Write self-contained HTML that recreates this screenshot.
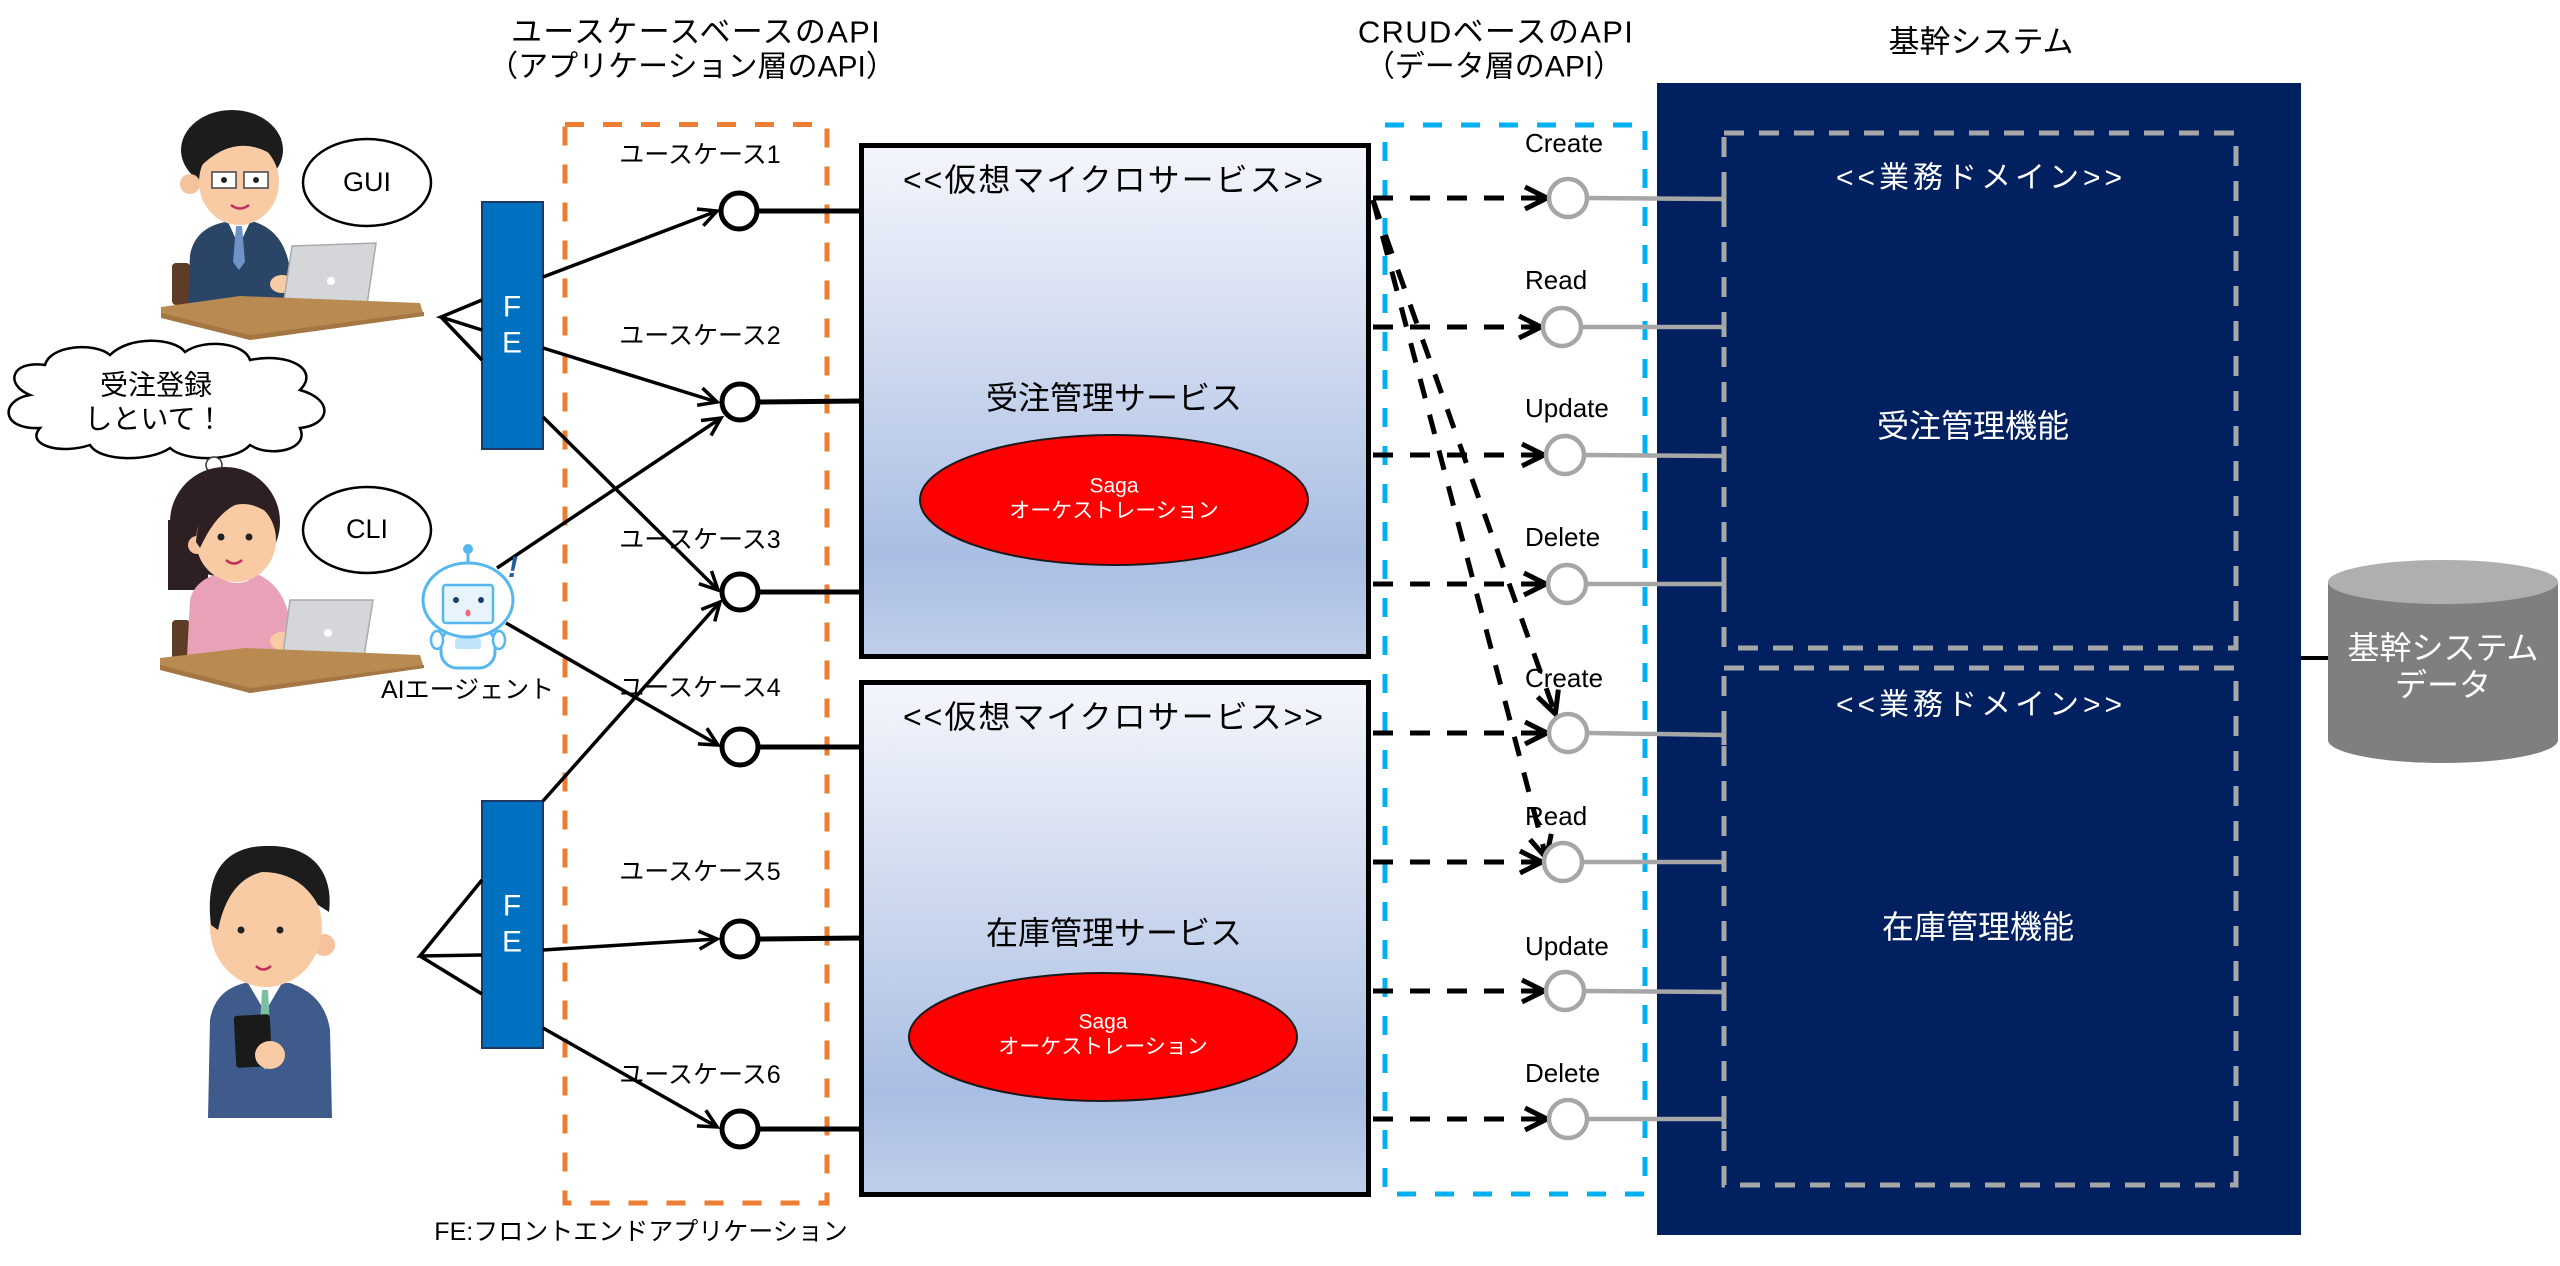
<!DOCTYPE html>
<html><head><meta charset="utf-8"><style>
html,body{margin:0;padding:0;background:#fff;}
svg{display:block;}
.t{font-family:"Liberation Sans","Noto Sans CJK JP",sans-serif;}
</style></head><body>
<svg width="2560" height="1266" viewBox="0 0 2560 1266" xmlns="http://www.w3.org/2000/svg">
<defs>
<linearGradient id="g" x1="0" y1="0" x2="0" y2="1">
<stop offset="0" stop-color="#F4F6FC"/><stop offset="0.5" stop-color="#C6D3EC"/><stop offset="0.8" stop-color="#A9BEE4"/><stop offset="1" stop-color="#BFCEEA"/>
</linearGradient>
<marker id="a" markerUnits="userSpaceOnUse" markerWidth="26" markerHeight="26" viewBox="0 0 26 26" refX="21" refY="13" orient="auto"><path d="M3,4 L21,13 L3,22" fill="none" stroke="#000" stroke-width="3.5"/></marker>
<marker id="b" markerUnits="userSpaceOnUse" markerWidth="32" markerHeight="30" viewBox="0 0 32 30" refX="24" refY="15" orient="auto"><path d="M3,4 L25,15 L3,26" fill="none" stroke="#000" stroke-width="5"/></marker>
</defs>

<!-- titles -->
<g class="t" fill="#000" text-anchor="middle" dominant-baseline="central">
<text x="696" y="32" font-size="31" letter-spacing="1.3">ユースケースベースのAPI</text>
<text x="692" y="67" font-size="30">（アプリケーション層のAPI）</text>
<text x="1496" y="32" font-size="31" letter-spacing="1.3">CRUDベースのAPI</text>
<text x="1494" y="67" font-size="30">（データ層のAPI）</text>
<text x="1981" y="42" font-size="31">基幹システム</text>
</g>

<!-- navy core system -->
<rect x="1657" y="83" width="644" height="1152" fill="#002060"/>
<rect x="1724" y="133" width="512" height="515" fill="none" stroke="#A6A6A6" stroke-width="5" stroke-dasharray="20 15"/>
<rect x="1724" y="668" width="512" height="517" fill="none" stroke="#A6A6A6" stroke-width="5" stroke-dasharray="20 15"/>
<g class="t" fill="#fff" text-anchor="middle" dominant-baseline="central">
<text x="1981" y="178" font-size="30" letter-spacing="4">&lt;&lt;業務ドメイン&gt;&gt;</text>
<text x="1981" y="705" font-size="30" letter-spacing="4">&lt;&lt;業務ドメイン&gt;&gt;</text>
<text x="1973" y="426" font-size="32">受注管理機能</text>
<text x="1978" y="927" font-size="32">在庫管理機能</text>
</g>

<!-- cylinder -->
<line x1="2301" y1="658" x2="2330" y2="658" stroke="#000" stroke-width="4"/>
<path d="M2328,582 L2328,740 A115,23 0 0 0 2558,740 L2558,582 Z" fill="#7F7F7F"/>
<ellipse cx="2443" cy="582" rx="115" ry="22" fill="#AFAFAF"/>
<g class="t" fill="#fff" text-anchor="middle" dominant-baseline="central" font-size="32">
<text x="2443" y="648">基幹システム</text>
<text x="2443" y="685">データ</text>
</g>

<!-- orange and blue dashed boxes -->
<rect x="565" y="124.5" width="262" height="1078.5" fill="none" stroke="#ED7D31" stroke-width="5" stroke-dasharray="19 19"/>
<rect x="1385" y="125" width="260" height="1069" fill="none" stroke="#00B0F0" stroke-width="5" stroke-dasharray="19 19"/>

<!-- microservice boxes -->
<rect x="861.5" y="145.5" width="507" height="511" fill="url(#g)" stroke="#000" stroke-width="5"/>
<rect x="861.5" y="682.5" width="507" height="512" fill="url(#g)" stroke="#000" stroke-width="5"/>
<g class="t" fill="#000" text-anchor="middle" dominant-baseline="central">
<text x="1114" y="180" font-size="32" letter-spacing="2">&lt;&lt;仮想マイクロサービス&gt;&gt;</text>
<text x="1114" y="717" font-size="32" letter-spacing="2">&lt;&lt;仮想マイクロサービス&gt;&gt;</text>
<text x="1114" y="398" font-size="32">受注管理サービス</text>
<text x="1114" y="933" font-size="32">在庫管理サービス</text>
</g>
<ellipse cx="1114" cy="500" rx="194" ry="65" fill="#FF0000" stroke="#1a1a1a" stroke-width="2"/>
<ellipse cx="1103" cy="1037" rx="194" ry="64" fill="#FF0000" stroke="#1a1a1a" stroke-width="2"/>
<g class="t" fill="#fff" text-anchor="middle" dominant-baseline="central" font-size="21">
<text x="1114" y="486">Saga</text>
<text x="1114" y="511">オーケストレーション</text>
<text x="1103" y="1022">Saga</text>
<text x="1103" y="1047">オーケストレーション</text>
</g>

<!-- CRUD dashed arrows -->
<g stroke="#000" stroke-width="5" stroke-dasharray="20 17" fill="none">
<line x1="1373" y1="198" x2="1546" y2="198" marker-end="url(#b)"/>
<line x1="1373" y1="327" x2="1540" y2="327" marker-end="url(#b)"/>
<line x1="1373" y1="455" x2="1543" y2="455" marker-end="url(#b)"/>
<line x1="1373" y1="584" x2="1545" y2="584" marker-end="url(#b)"/>
<line x1="1373" y1="733" x2="1546" y2="733" marker-end="url(#b)"/>
<line x1="1373" y1="862" x2="1541" y2="862" marker-end="url(#b)"/>
<line x1="1373" y1="991" x2="1543" y2="991" marker-end="url(#b)"/>
<line x1="1373" y1="1119" x2="1546" y2="1119" marker-end="url(#b)"/>
<line x1="1373" y1="200" x2="1555" y2="713" marker-end="url(#b)"/>
<line x1="1373" y1="200" x2="1546" y2="857" marker-end="url(#b)"/>
</g>

<!-- gray connectors -->
<g stroke="#A6A6A6" stroke-width="4.5" fill="none">
<line x1="1588" y1="198" x2="1724" y2="199"/>
<line x1="1582" y1="327" x2="1724" y2="327"/>
<line x1="1585" y1="455" x2="1724" y2="456"/>
<line x1="1587" y1="584" x2="1724" y2="584"/>
<line x1="1588" y1="733" x2="1724" y2="735"/>
<line x1="1583" y1="862" x2="1724" y2="862"/>
<line x1="1585" y1="991" x2="1724" y2="992"/>
<line x1="1588" y1="1119" x2="1724" y2="1119"/>
<g stroke-width="5">
<line x1="1724" y1="189" x2="1724" y2="209"/><line x1="1724" y1="317" x2="1724" y2="337"/>
<line x1="1724" y1="446" x2="1724" y2="466"/><line x1="1724" y1="574" x2="1724" y2="594"/>
<line x1="1724" y1="725" x2="1724" y2="745"/><line x1="1724" y1="852" x2="1724" y2="872"/>
<line x1="1724" y1="982" x2="1724" y2="1002"/><line x1="1724" y1="1109" x2="1724" y2="1129"/>
</g>
</g>
<g fill="#fff" stroke="#A6A6A6" stroke-width="4.5">
<circle cx="1568" cy="198" r="19"/><circle cx="1562" cy="327" r="19"/>
<circle cx="1565" cy="455" r="19"/><circle cx="1567" cy="584" r="19"/>
<circle cx="1568" cy="733" r="19"/><circle cx="1563" cy="862" r="19"/>
<circle cx="1565" cy="991" r="19"/><circle cx="1568" cy="1119" r="19"/>
</g>
<g class="t" fill="#000" font-size="26" dominant-baseline="central">
<text x="1525" y="143">Create</text><text x="1525" y="280">Read</text>
<text x="1525" y="408">Update</text><text x="1525" y="537">Delete</text>
<text x="1525" y="678">Create</text><text x="1525" y="816">Read</text>
<text x="1525" y="946">Update</text><text x="1525" y="1073">Delete</text>
</g>

<!-- use case circles and connectors -->
<g stroke="#000" stroke-width="5">
<line x1="758" y1="211" x2="861" y2="211"/><line x1="758" y1="402" x2="861" y2="401"/>
<line x1="758" y1="592" x2="861" y2="592"/><line x1="758" y1="747" x2="861" y2="747"/>
<line x1="758" y1="939" x2="861" y2="938"/><line x1="758" y1="1129" x2="861" y2="1129"/>
</g>
<g fill="#fff" stroke="#000" stroke-width="5">
<circle cx="739" cy="211" r="18"/><circle cx="740" cy="402" r="18"/>
<circle cx="740" cy="592" r="18"/><circle cx="740" cy="747" r="18"/>
<circle cx="740" cy="939" r="18"/><circle cx="740" cy="1129" r="18"/>
</g>
<g class="t" fill="#000" font-size="25" text-anchor="middle" dominant-baseline="central">
<text x="700" y="155">ユースケース1</text><text x="700" y="336">ユースケース2</text>
<text x="700" y="540">ユースケース3</text><text x="700" y="688">ユースケース4</text>
<text x="700" y="872">ユースケース5</text><text x="700" y="1075">ユースケース6</text>
</g>

<!-- FE boxes -->
<rect x="482" y="202" width="61" height="247" fill="#0070C0" stroke="#1F3864" stroke-width="2"/>
<rect x="482" y="801" width="61" height="247" fill="#0070C0" stroke="#1F3864" stroke-width="2"/>
<g class="t" fill="#fff" font-size="30" text-anchor="middle" dominant-baseline="central">
<text x="512" y="307">F</text><text x="512" y="343">E</text>
<text x="512" y="906">F</text><text x="512" y="942">E</text>
</g>

<!-- arrows to use cases -->
<g stroke="#000" stroke-width="3.5" fill="none">
<line x1="543" y1="277" x2="717" y2="211" marker-end="url(#a)"/>
<line x1="543" y1="348" x2="717" y2="402" marker-end="url(#a)"/>
<line x1="543" y1="417" x2="718" y2="590" marker-end="url(#a)"/>
<line x1="497" y1="568" x2="721" y2="418" marker-end="url(#a)"/>
<line x1="506" y1="623" x2="718" y2="745" marker-end="url(#a)"/>
<line x1="543" y1="801" x2="720" y2="602" marker-end="url(#a)"/>
<line x1="543" y1="950" x2="717" y2="939" marker-end="url(#a)"/>
<line x1="543" y1="1028" x2="717" y2="1127" marker-end="url(#a)"/>
<!-- fans -->
<polyline points="482,300 441,317 482,330"/>
<line x1="441" y1="317" x2="482" y2="360"/>
<polyline points="482,880 420,956 482,955"/>
<line x1="420" y1="956" x2="482" y2="994"/>
</g>

<!-- speech ellipses -->
<ellipse cx="367" cy="182.5" rx="64" ry="43.5" fill="#fff" stroke="#000" stroke-width="2.5"/>
<ellipse cx="367" cy="530" rx="64" ry="43" fill="#fff" stroke="#000" stroke-width="2.5"/>
<g class="t" fill="#000" font-size="27" text-anchor="middle" dominant-baseline="central">
<text x="367" y="182">GUI</text><text x="367" y="529">CLI</text>
</g>

<!-- cloud -->
<path d="M30,395 C5,385 10,360 45,365 C50,345 95,342 110,355 C130,335 175,338 185,352 C205,338 245,343 250,360 C290,352 320,370 300,390 C335,400 330,425 300,428 C310,450 270,458 250,445 C235,462 185,462 170,448 C150,462 100,462 90,445 C60,455 25,445 40,428 C0,430 0,400 30,395 Z" fill="#fff" stroke="#000" stroke-width="2.5"/>
<g class="t" fill="#000" font-size="28" text-anchor="middle" dominant-baseline="central">
<text x="156" y="385">受注登録</text><text x="154" y="419">しといて！</text>
</g>

<!-- Person 1 -->
<g>
<rect x="172" y="263" width="18" height="42" rx="4" fill="#5E3C26"/>
<path d="M188,305 L190,255 Q195,228 225,222 L255,222 Q285,232 290,270 L292,305 Z" fill="#2A4566"/>
<polygon points="228,222 250,222 239,246" fill="#fff"/>
<polygon points="236,226 242,226 245,262 239,270 233,262" fill="#6E93C5"/>
<ellipse cx="232" cy="150" rx="51" ry="40" fill="#1c1c1c"/>
<circle cx="190" cy="184" r="10" fill="#F6C29C"/>
<ellipse cx="239" cy="182" rx="40" ry="43" fill="#F8CBA4"/>
<path d="M199,168 Q238,128 280,160 L281,138 Q240,108 198,140 Z" fill="#1c1c1c"/>
<rect x="212" y="172" width="24" height="16" fill="#fff" stroke="#444" stroke-width="1.5"/>
<rect x="244" y="172" width="24" height="16" fill="#fff" stroke="#444" stroke-width="1.5"/>
<circle cx="224" cy="180" r="3" fill="#222"/><circle cx="256" cy="180" r="3" fill="#222"/>
<path d="M231,205 Q240,212 249,205" stroke="#C0305A" stroke-width="2.5" fill="none"/>
<ellipse cx="282" cy="284" rx="12" ry="9" fill="#F8CBA4"/>
<polygon points="292,246 376,243 367,305 283,307" fill="#D5D6DA" stroke="#A9AAAE" stroke-width="1.5"/>
<circle cx="331" cy="281" r="4" fill="#fff"/>
<polygon points="245,306 370,303 362,312 250,316" fill="#C9CACE"/>
<polygon points="161,307 240,296 420,303 424,316 250,340 161,316" fill="#B98A51"/>
<polygon points="161,313 250,335 424,312 424,316 250,340 161,318" fill="#A37643"/>
</g>

<!-- Person 2 -->
<g>
<circle cx="214" cy="465" r="8" fill="#fff" stroke="#333" stroke-width="1.5"/>
<circle cx="224" cy="481" r="5" fill="#fff" stroke="#333" stroke-width="1.5"/>
<circle cx="232" cy="490" r="3" fill="#fff" stroke="#333" stroke-width="1.2"/>
<rect x="172" y="620" width="18" height="42" rx="4" fill="#5E3C26"/>
<ellipse cx="225" cy="522" rx="55" ry="55" fill="#2D1F22"/>
<rect x="168" y="520" width="40" height="70" fill="#2D1F22"/>
<path d="M187,657 L190,600 Q195,578 225,572 L250,572 Q282,580 290,620 L292,657 Z" fill="#E9A1B8"/>
<ellipse cx="237" cy="577" rx="14" ry="6" fill="#fff"/>
<circle cx="197" cy="545" r="9" fill="#F6C29C"/>
<ellipse cx="236" cy="540" rx="40" ry="42" fill="#F8CBA4"/>
<path d="M196,542 Q200,485 250,485 Q275,490 277,520 Q255,500 235,505 Q215,515 200,548 Z" fill="#2D1F22"/>
<circle cx="221" cy="537" r="3.5" fill="#222"/><circle cx="249" cy="537" r="3.5" fill="#222"/>
<path d="M226,560 Q234,567 242,560" stroke="#C0305A" stroke-width="2.5" fill="none"/>
<ellipse cx="282" cy="641" rx="12" ry="9" fill="#F8CBA4"/>
<polygon points="290,600 373,600 363,663 282,662" fill="#D5D6DA" stroke="#A9AAAE" stroke-width="1.5"/>
<circle cx="328" cy="633" r="4" fill="#fff"/>
<polygon points="243,662 370,660 362,668 250,672" fill="#C9CACE"/>
<polygon points="160,658 245,648 420,655 424,668 250,693 160,668" fill="#B98A51"/>
<polygon points="160,665 250,688 424,665 424,668 250,693 160,670" fill="#A37643"/>
</g>

<!-- Robot -->
<g>
<line x1="468" y1="553" x2="468" y2="564" stroke="#55B7EC" stroke-width="3"/>
<circle cx="468" cy="549" r="5" fill="#55B7EC"/>
<rect x="441" y="628" width="54" height="40" rx="16" fill="#fff" stroke="#55B7EC" stroke-width="3"/>
<ellipse cx="437" cy="640" rx="6" ry="9" fill="#fff" stroke="#55B7EC" stroke-width="2.5"/>
<ellipse cx="499" cy="640" rx="6" ry="9" fill="#fff" stroke="#55B7EC" stroke-width="2.5"/>
<rect x="455" y="638" width="26" height="11" rx="3" fill="#BFE3F8"/>
<ellipse cx="468" cy="600" rx="45" ry="37" fill="#fff" stroke="#55B7EC" stroke-width="3"/>
<rect x="443" y="585" width="50" height="38" rx="3" fill="#E8F4FC" stroke="#55B7EC" stroke-width="2.5"/>
<circle cx="456" cy="600" r="3" fill="#1F3D6B"/><circle cx="481" cy="600" r="3" fill="#1F3D6B"/>
<ellipse cx="468" cy="613" rx="2.5" ry="3.5" fill="#F06A7A"/>
<text x="508" y="577" class="t" font-size="30" font-weight="bold" font-style="italic" fill="#1F5FA0">!</text>
</g>
<text x="381" y="690" class="t" font-size="25" fill="#000" dominant-baseline="central">AIエージェント</text>

<!-- Person 3 -->
<g>
<path d="M208,1118 L210,1020 Q215,990 245,983 L290,983 Q325,995 330,1030 L332,1118 Z" fill="#3F5B8B"/>
<polygon points="248,983 282,983 265,1012" fill="#fff"/>
<polygon points="262,990 268,990 272,1060 265,1070 258,1060" fill="#7CC0A4"/>
<circle cx="324" cy="945" r="11" fill="#F6C29C"/>
<ellipse cx="266" cy="927" rx="56" ry="60" fill="#F8CBA4"/>
<path d="M211,925 C203,862 235,845 270,846 C310,846 334,870 329,912 L318,905 Q300,872 262,872 Q228,880 218,930 Z" fill="#1c1c1c"/>
<circle cx="241" cy="930" r="3.5" fill="#222"/><circle cx="280" cy="930" r="3.5" fill="#222"/>
<path d="M256,966 Q263,973 271,966" stroke="#C0305A" stroke-width="2.5" fill="none"/>
<rect x="235" y="1015" width="36" height="52" rx="3" fill="#1a1a1a" transform="rotate(-3 253 1041)"/>
<ellipse cx="270" cy="1055" rx="15" ry="14" fill="#F8CBA4"/>
</g>

<text x="641" y="1232" class="t" font-size="25" fill="#000" text-anchor="middle" dominant-baseline="central">FE:フロントエンドアプリケーション</text>
</svg>
</body></html>
